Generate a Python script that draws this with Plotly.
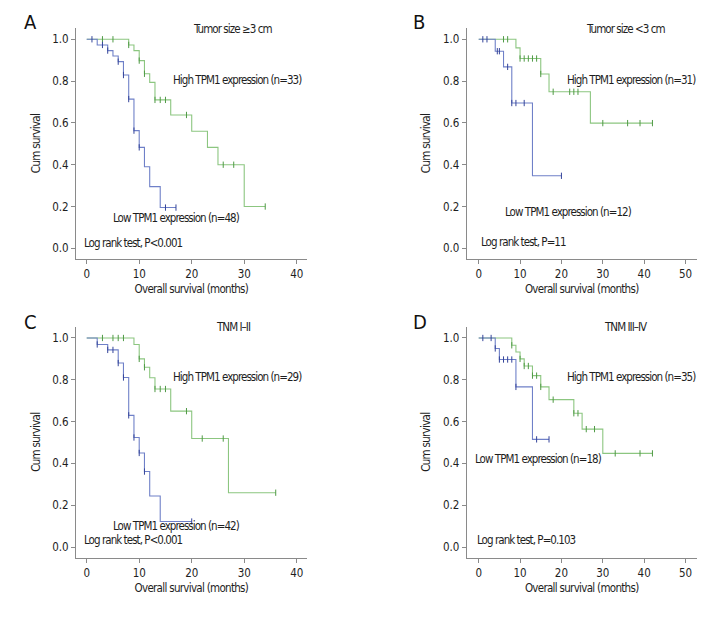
import plotly.graph_objects as go
from plotly.subplots import make_subplots

# Kaplan-Meier step data: event times, survival after each step,
# and censor times. Each curve starts at (0, 1.0).
a_low_t = [0, 2, 4, 5, 6, 7, 8, 9, 10, 11, 12, 14, 17]
a_low_s = [1.0, 0.973, 0.946, 0.92, 0.893, 0.829, 0.714, 0.563, 0.483, 0.39, 0.295, 0.195, 0.195]
a_low_c = [1, 3, 4, 6, 7, 8, 9, 10, 15, 17]
a_high_t = [0, 8, 9, 10, 11, 12, 13, 16, 20, 23, 25, 30, 34]
a_high_s = [1.0, 0.973, 0.946, 0.898, 0.835, 0.794, 0.71, 0.638, 0.56, 0.483, 0.40, 0.20, 0.20]
a_high_c = [3, 5, 8, 10, 11, 13, 14, 15, 19, 26, 28, 34]

b_low_t = [0, 4, 6, 8, 13, 20]
b_low_s = [1.0, 0.943, 0.868, 0.695, 0.347, 0.347]
b_low_c = [1, 2, 4.5, 5, 7, 8, 9, 11, 20]
b_high_t = [0, 9, 10, 15, 17, 27, 42]
b_high_s = [1.0, 0.959, 0.908, 0.834, 0.749, 0.599, 0.599]
b_high_c = [6, 7, 10, 11, 12, 13, 14, 15, 18, 22, 23, 24, 30, 36, 39, 42]

c_low_t = [0, 2, 4, 6, 7, 8, 9, 10, 11, 12, 14, 20]
c_low_s = [1.0, 0.969, 0.943, 0.88, 0.811, 0.63, 0.524, 0.45, 0.361, 0.244, 0.122, 0.122]
c_low_c = [2, 4, 5, 6, 7, 8, 9, 10, 11, 20]
c_high_t = [0, 9, 10, 11, 12, 13, 16, 20, 27, 36]
c_high_s = [1.0, 0.969, 0.90, 0.86, 0.81, 0.756, 0.65, 0.519, 0.26, 0.26]
c_high_c = [3, 5, 6, 7, 10, 11, 13, 14, 15, 19, 22, 26, 36]

d_low_t = [0, 4, 5, 9, 13, 17]
d_low_s = [1.0, 0.95, 0.897, 0.766, 0.515, 0.515]
d_low_c = [1, 3, 4, 5, 6, 7, 8, 9, 14, 17]
d_high_t = [0, 8, 9, 10, 11, 13, 15, 17, 23, 25, 30, 42]
d_high_s = [1.0, 0.965, 0.933, 0.90, 0.866, 0.82, 0.766, 0.705, 0.64, 0.564, 0.448, 0.448]
d_high_c = [8, 10, 11, 12, 13, 14, 15, 18, 23, 24, 26, 28, 33, 39, 42]

panel_letters = ["A", "B", "C", "D"]
panel_titles = ["Tumor size \u22653 cm", "Tumor size &lt;3 cm", "TNM I\u2013II", "TNM III\u2013IV"]
high_labels = ["High TPM1 expression (n=33)", "High TPM1 expression (n=31)",
               "High TPM1 expression (n=29)", "High TPM1 expression (n=35)"]
low_labels = ["Low TPM1 expression (n=48)", "Low TPM1 expression (n=12)",
              "Low TPM1 expression (n=42)", "Low TPM1 expression (n=18)"]
logrank_labels = ["Log rank test, P&lt;0.001", "Log rank test, P=11",
                  "Log rank test, P&lt;0.001", "Log rank test, P=0.103"]
x_ticks = [[0, 10, 20, 30, 40], [0, 10, 20, 30, 40, 50],
           [0, 10, 20, 30, 40], [0, 10, 20, 30, 40, 50]]
y_ticks = [0.0, 0.2, 0.4, 0.6, 0.8, 1.0]

curves = [
    ((a_low_t, a_low_s, a_low_c), (a_high_t, a_high_s, a_high_c)),
    ((b_low_t, b_low_s, b_low_c), (b_high_t, b_high_s, b_high_c)),
    ((c_low_t, c_low_s, c_low_c), (c_high_t, c_high_s, c_high_c)),
    ((d_low_t, d_low_s, d_low_c), (d_high_t, d_high_s, d_high_c)),
]

W, H = 726, 618
OFF = 8  # page body margin shifts the figure by this many pixels
FONT = "DejaVu Sans Condensed, Liberation Sans Narrow, sans-serif"
BLUE, BLUE_MK = "#6f80c8", "#34449a"
GREEN, GREEN_MK = "#8cc680", "#4f9a45"
AXIS = "#8a8a8a"
TXT = "#1e1e1e"


def px(x):
    return (x - OFF) / W


def py(y):
    return 1 - (y - OFF) / H


def narrow(s, sp=-0.95):
    return f'<span style="letter-spacing:{sp}px">{s}</span>'


def surv_at(times, surv, t):
    s = surv[0]
    for ti, si in zip(times, surv):
        if ti <= t:
            s = si
    return s


# pixel boxes of the four plot areas: (left, right, top, bottom)
boxes = [(76, 306.7, 28, 259), (466.7, 696.7, 28, 259),
         (76, 306.7, 326.7, 557.7), (466.7, 696.7, 326.7, 557.7)]
x_ranges = [[-2.04, 41.9], [-2.9, 52.7], [-2.04, 41.9], [-2.9, 52.7]]
# label positions in pixels: letter, title, high, low, logrank
label_pos = [
    dict(letter=(22, 22), title=(232, 29), high=(171, 80), low=(111, 218), lr=(82, 243)),
    dict(letter=(411, 22), title=(625, 29), high=(565, 80), low=(503, 212), lr=(479, 242)),
    dict(letter=(22, 322), title=(233, 327), high=(171, 377), low=(111, 526), lr=(82, 540)),
    dict(letter=(411, 322), title=(625, 327), high=(565, 377), low=(473, 459), lr=(475, 540)),
]

fig = make_subplots(rows=2, cols=2)
annotations = []

for i, ((low, high), box) in enumerate(zip(curves, boxes)):
    row, col = i // 2 + 1, i % 2 + 1
    for (t, s, c), line_col, mk_col in ((high, GREEN, GREEN_MK), (low, BLUE, BLUE_MK)):
        fig.add_trace(go.Scatter(x=t, y=s, mode="lines", line_shape="hv",
                                 line=dict(color=line_col, width=1.1),
                                 showlegend=False, hoverinfo="skip"),
                      row=row, col=col)
        fig.add_trace(go.Scatter(x=c, y=[surv_at(t, s, ci) for ci in c], mode="markers",
                                 marker=dict(symbol="line-ns", size=4.5,
                                             line=dict(color=mk_col, width=1)),
                                 showlegend=False, hoverinfo="skip"),
                      row=row, col=col)

    left, right, top, bottom = box
    sfx = "" if i == 0 else str(i + 1)
    fig.layout["xaxis" + sfx].update(
        domain=[px(left), px(right)], range=x_ranges[i], tickvals=x_ticks[i],
        title=dict(text=narrow("Overall survival (months)", -0.7), standoff=5,
                   font=dict(size=11.5, color=TXT)))
    fig.layout["yaxis" + sfx].update(
        domain=[py(bottom), py(top)], range=[-0.051, 1.054], tickvals=y_ticks,
        tickformat=".1f",
        title=dict(text=narrow("Cum survival", -0.7), standoff=9,
                   font=dict(size=11.5, color=TXT)))

    pos = label_pos[i]
    annotations.append(dict(text=panel_letters[i], x=px(pos["letter"][0]), y=py(pos["letter"][1]),
                            xanchor="left", yanchor="middle", font=dict(size=20, color="#111")))
    annotations.append(dict(text=narrow(panel_titles[i]), x=px(pos["title"][0]),
                            y=py(pos["title"][1]), xanchor="center", yanchor="middle"))
    for key, txt in (("high", high_labels[i]), ("low", low_labels[i]), ("lr", logrank_labels[i])):
        annotations.append(dict(text=narrow(txt), x=px(pos[key][0]), y=py(pos[key][1]),
                                xanchor="left", yanchor="middle"))

for a in annotations:
    a.update(xref="paper", yref="paper", showarrow=False)
    a.setdefault("font", dict(size=11.5, color=TXT))

fig.update_xaxes(showline=True, linecolor=AXIS, linewidth=1, ticks="outside",
                 ticklen=4, tickcolor=AXIS, showgrid=False, zeroline=False,
                 tickfont=dict(size=11.5, color=TXT))
fig.update_yaxes(showline=True, linecolor=AXIS, linewidth=1, ticks="outside",
                 ticklen=4, tickcolor=AXIS, showgrid=False, zeroline=False,
                 tickfont=dict(size=11.5, color=TXT))

fig.update_layout(width=W, height=H, margin=dict(l=0, r=0, t=0, b=0),
                  paper_bgcolor="white", plot_bgcolor="white",
                  font=dict(family=FONT, size=11.5, color=TXT),
                  annotations=annotations)

fig.write_html("out.html")
